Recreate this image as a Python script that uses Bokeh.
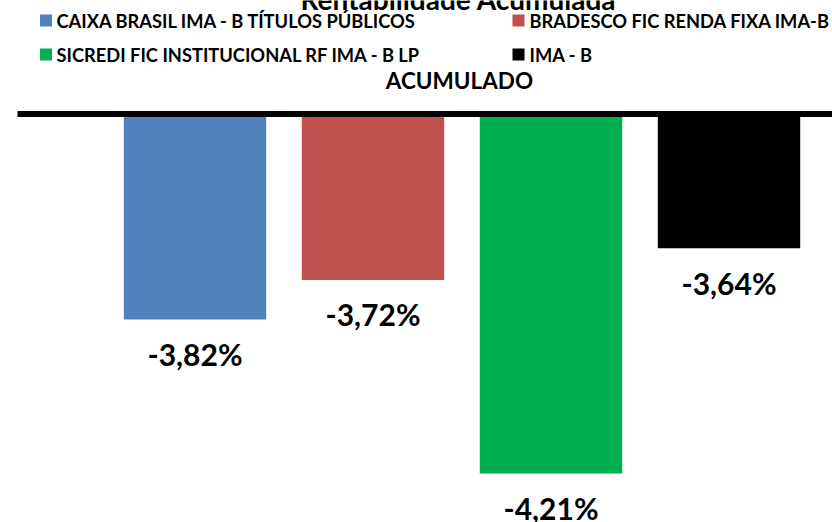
from bokeh.plotting import figure
from bokeh.models import Range1d
from bokeh.core.properties import value
from bokeh.embed import file_html
from bokeh.resources import INLINE

# ---- data ----
title = "Rentabilidade Acumulada"
category = "ACUMULADO"
series = [
    "CAIXA BRASIL IMA - B TÍTULOS PÚBLICOS",
    "BRADESCO FIC RENDA FIXA IMA-B",
    "SICREDI FIC INSTITUCIONAL RF IMA - B LP",
    "IMA - B",
]
values = [-3.82, -3.72, -4.21, -3.64]
colors = ["#4F81BD", "#C0504D", "#00B050", "#000000"]
axis_base = -3.3
labels = [f"{v:.2f}%".replace(".", ",") for v in values]
positions = list(range(len(series)))

# ---- layout ----
W, H = 832, 522
FONT = value("Lato")
base_px = 113.5          # pixel row of the category axis
ky = 395.0               # pixels per percentage point
kx = 178.0               # pixels per bar slot
x0_px = 194.5            # pixel column of the first bar centre

y_top = axis_base + base_px / ky
y_bot = axis_base - (H - base_px) / ky
x_left = -x0_px / kx
x_right = (W - x0_px) / kx


def dx(px):
    return x_left + px / kx


def dy(py):
    return y_top - py / ky


p = figure(width=W, height=H, output_backend="svg", toolbar_location=None,
           x_range=Range1d(x_left, x_right), y_range=Range1d(y_bot, y_top),
           min_border=0, outline_line_color=None)
p.axis.visible = False
p.grid.visible = False
p.background_fill_color = "white"

# bars hanging from the axis base
p.vbar(x=positions, top=axis_base, bottom=values, width=0.8, color=colors,
       line_color=None)

# thick category axis line
p.segment(x0=[dx(17)], y0=[axis_base], x1=[x_right], y1=[axis_base],
          line_color="black", line_width=6)

# value labels
p.text(x=positions, y=[v - 34.5 / ky for v in values], text=labels,
       text_font=FONT, text_font_style="bold", text_font_size="30px",
       text_align="center", text_baseline="middle", text_color="black")

# category label
p.text(x=[dx(459)], y=[dy(80)], text=[category], text_font=FONT,
       text_font_style="bold", text_font_size="22.5px", text_align="center",
       text_baseline="middle", text_color="black")

# title (clipped at the top)
p.text(x=[dx(458)], y=[dy(-2)], text=[title], text_font=FONT,
       text_font_style="bold", text_font_size="28px", text_align="center",
       text_baseline="alphabetic", text_color="black")

# legend
leg_sq_x = [45.5, 518, 45.5, 518]
leg_tx_x = [56, 529, 56, 529]
leg_y = [20, 20, 54, 54]
p.rect(x=[dx(v) for v in leg_sq_x], y=[dy(v) for v in leg_y], width=12,
       height=12, width_units="screen", height_units="screen",
       color=colors, line_color=None)
p.text(x=[dx(v) for v in leg_tx_x], y=[dy(v) for v in leg_y], text=series,
       text_font=FONT, text_font_style="bold", text_font_size="18.3px",
       text_align="left", text_baseline="middle", text_color="black")

open("out.html", "w").write(file_html(p, INLINE))
